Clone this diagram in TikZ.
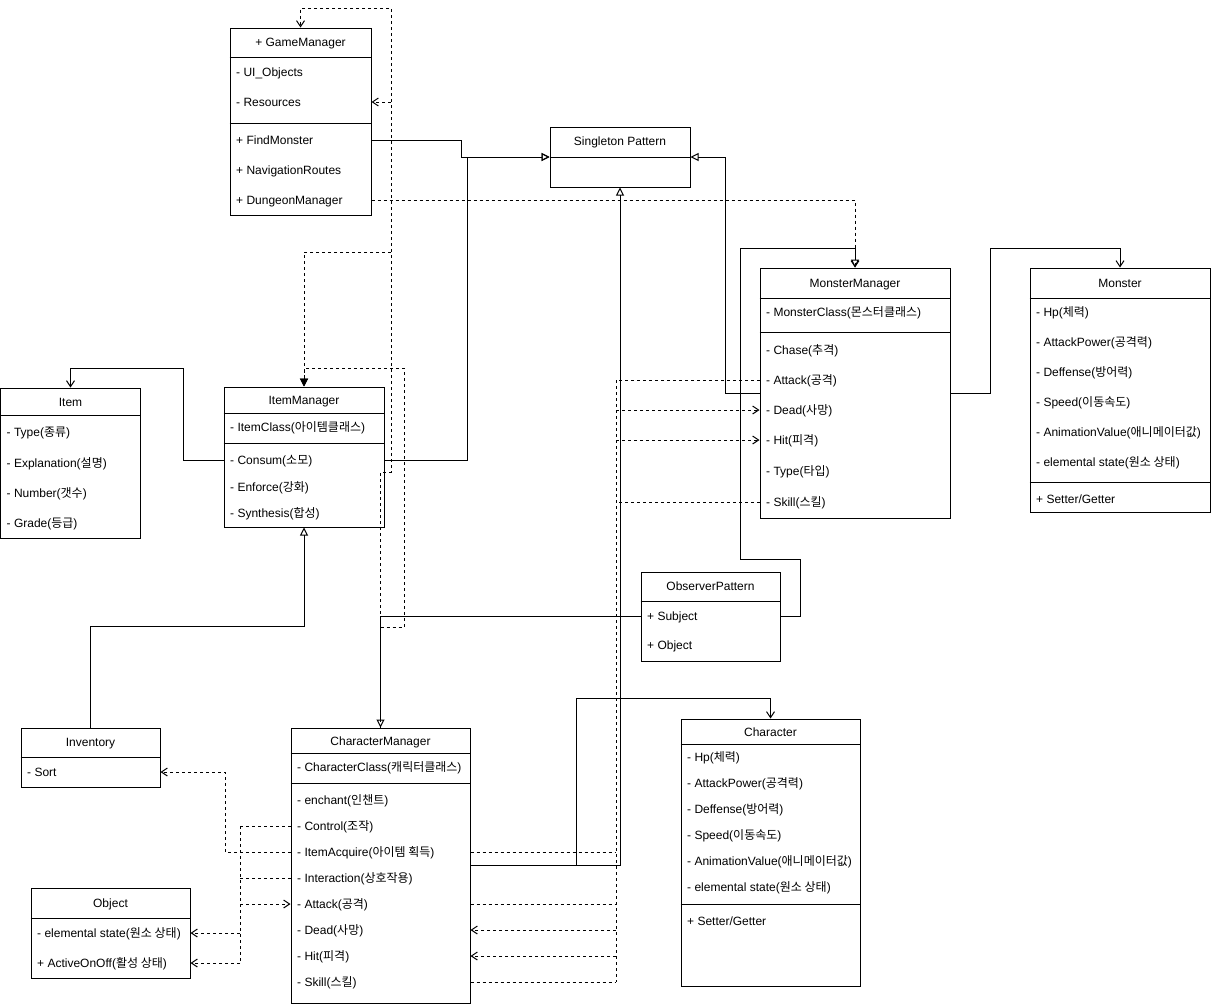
\documentclass[tikz,border=0pt]{standalone}
\usepackage{fontspec}
\setmainfont{Liberation Sans}
\newfontfamily\kofont{Noto Sans CJK KR}
\newcommand{\ko}[1]{{\kofont #1}}
\usetikzlibrary{arrows.meta}

\tikzset{
  classbox/.style={draw, line width=1pt, inner sep=0pt},
  headtxt/.style={inner sep=0pt, text height=10.5pt, text depth=1.5pt},
  rowtxt/.style={anchor=west, inner xsep=6pt, inner ysep=0pt, text height=10.5pt, text depth=1.5pt},
  solidline/.style={line width=1pt},
  dashline/.style={line width=1pt, dash pattern=on 3pt off 3pt},
  hollowtip/.style={-{Triangle[open, length=8pt, width=8pt]}},
  opentip/.style={-{Straight Barb[length=6pt, width=8pt]}},
  filledtip/.style={-{Triangle[length=8pt, width=8pt]}},
}

\begin{document}
\begin{tikzpicture}[x=1pt, y=-1pt, font=\fontsize{12}{14}\selectfont]
  \useasboundingbox (0,0) rectangle (1211,1004);

  % GameManager
  \node [classbox, minimum width=141pt, minimum height=187pt] (gm) at (300.5,121.5) {};
  \node [headtxt] (gmHead) at (300.5,42) {+ GameManager};
  \draw [solidline] (gm.west |- 0,57) -- (gm.east |- 0,57);
  \node [rowtxt] (gmUI) at (230,72) {- UI\_Objects};
  \node [rowtxt] (gmRes) at (230,102) {- Resources};
  \draw [solidline] (gm.west |- 0,123) -- (gm.east |- 0,123);
  \node [rowtxt] (gmFind) at (230,140) {+ FindMonster};
  \node [rowtxt] (gmNav) at (230,170) {+ NavigationRoutes};
  \node [rowtxt] (gmDungeon) at (230,200) {+ DungeonManager};

  % Singleton Pattern
  \node [classbox, minimum width=140pt, minimum height=60pt] (sp) at (620,157) {};
  \node [headtxt] (spHead) at (620,141) {Singleton Pattern};
  \draw [solidline] (sp.west) -- (sp.east);

  % Item
  \node [classbox, minimum width=140pt, minimum height=150pt] (item) at (70.5,463) {};
  \node [headtxt] (itemHead) at (70.5,402) {Item};
  \draw [solidline] (item.west |- 0,415) -- (item.east |- 0,415);
  \node [rowtxt] (itemType) at (0.5,432) {- Type(\ko{종류})};
  \node [rowtxt] (itemExp) at (0.5,463) {- Explanation(\ko{설명})};
  \node [rowtxt] (itemNum) at (0.5,493) {- Number(\ko{갯수})};
  \node [rowtxt] (itemGrade) at (0.5,523) {- Grade(\ko{등급})};

  % ItemManager
  \node [classbox, minimum width=160pt, minimum height=140pt] (im) at (304,457) {};
  \node [headtxt] (imHead) at (304,400) {ItemManager};
  \draw [solidline] (im.west |- 0,413) -- (im.east |- 0,413);
  \node [rowtxt] (imClass) at (224,427) {- ItemClass(\ko{아이템클래스})};
  \draw [solidline] (im.west |- 0,443) -- (im.east |- 0,443);
  \node [rowtxt] (imConsum) at (224,460) {- Consum(\ko{소모})};
  \node [rowtxt] (imEnforce) at (224,487) {- Enforce(\ko{강화})};
  \node [rowtxt] (imSynth) at (224,513) {- Synthesis(\ko{합성})};

  % MonsterManager
  \node [classbox, minimum width=190pt, minimum height=250pt] (mm) at (855,393) {};
  \node [headtxt] (mmHead) at (855,283) {MonsterManager};
  \draw [solidline] (mm.west |- 0,298) -- (mm.east |- 0,298);
  \node [rowtxt] (mmClass) at (760,312) {- MonsterClass(\ko{몬스터클래스})};
  \draw [solidline] (mm.west |- 0,332) -- (mm.east |- 0,332);
  \node [rowtxt] (mmChase) at (760,350) {- Chase(\ko{추격})};
  \node [rowtxt] (mmAttack) at (760,380) {- Attack(\ko{공격})};
  \node [rowtxt] (mmDead) at (760,410) {- Dead(\ko{사망})};
  \node [rowtxt] (mmHit) at (760,440) {- Hit(\ko{피격})};
  \node [rowtxt] (mmType) at (760,471) {- Type(\ko{타입})};
  \node [rowtxt] (mmSkill) at (760,502) {- Skill(\ko{스킬})};

  % Monster
  \node [classbox, minimum width=180pt, minimum height=244pt] (mon) at (1120,390) {};
  \node [headtxt] (monHead) at (1120,283) {Monster};
  \draw [solidline] (mon.west |- 0,298) -- (mon.east |- 0,298);
  \node [rowtxt] (monHp) at (1030,312) {- Hp(\ko{체력})};
  \node [rowtxt] (monAtk) at (1030,342) {- AttackPower(\ko{공격력})};
  \node [rowtxt] (monDef) at (1030,372) {- Deffense(\ko{방어력})};
  \node [rowtxt] (monSpeed) at (1030,402) {- Speed(\ko{이동속도})};
  \node [rowtxt] (monAnim) at (1030,432) {- AnimationValue(\ko{애니메이터값})};
  \node [rowtxt] (monElem) at (1030,462) {- elemental state(\ko{원소 상태})};
  \draw [solidline] (mon.west |- 0,482) -- (mon.east |- 0,482);
  \node [rowtxt] (monSet) at (1030,499) {+ Setter/Getter};

  % ObserverPattern
  \node [classbox, minimum width=139pt, minimum height=89pt] (op) at (710.5,616.5) {};
  \node [headtxt] (opHead) at (710.5,586) {ObserverPattern};
  \draw [solidline] (op.west |- 0,601) -- (op.east |- 0,601);
  \node [rowtxt] (opSubj) at (641,616) {+ Subject};
  \node [rowtxt] (opObj) at (641,645) {+ Object};

  % Inventory
  \node [classbox, minimum width=139pt, minimum height=59pt] (inv) at (90.5,757.5) {};
  \node [headtxt] (invHead) at (90.5,742) {Inventory};
  \draw [solidline] (inv.west |- 0,757) -- (inv.east |- 0,757);
  \node [rowtxt] (invSort) at (21,772) {- Sort};

  % Object
  \node [classbox, minimum width=159pt, minimum height=90pt] (obj) at (110.5,933) {};
  \node [headtxt] (objHead) at (110.5,903) {Object};
  \draw [solidline] (obj.west |- 0,918) -- (obj.east |- 0,918);
  \node [rowtxt] (objElem) at (31,933) {- elemental state(\ko{원소 상태})};
  \node [rowtxt] (objActive) at (31,963) {+ ActiveOnOff(\ko{활성 상태})};

  % CharacterManager
  \node [classbox, minimum width=179pt, minimum height=275pt] (cm) at (380.5,865.5) {};
  \node [headtxt] (cmHead) at (380.5,741) {CharacterManager};
  \draw [solidline] (cm.west |- 0,753) -- (cm.east |- 0,753);
  \node [rowtxt] (cmClass) at (291,767) {- CharacterClass(\ko{캐릭터클래스})};
  \draw [solidline] (cm.west |- 0,783) -- (cm.east |- 0,783);
  \node [rowtxt] (cmEnchant) at (291,800) {- enchant(\ko{인챈트})};
  \node [rowtxt] (cmControl) at (291,826) {- Control(\ko{조작})};
  \node [rowtxt] (cmAcq) at (291,852) {- ItemAcquire(\ko{아이템 획득})};
  \node [rowtxt] (cmInter) at (291,878) {- Interaction(\ko{상호작용})};
  \node [rowtxt] (cmAttack) at (291,904) {- Attack(\ko{공격})};
  \node [rowtxt] (cmDead) at (291,930) {- Dead(\ko{사망})};
  \node [rowtxt] (cmHit) at (291,956) {- Hit(\ko{피격})};
  \node [rowtxt] (cmSkill) at (291,982) {- Skill(\ko{스킬})};

  % Character
  \node [classbox, minimum width=179pt, minimum height=267pt] (ch) at (770.5,852.5) {};
  \node [headtxt] (chHead) at (770.5,732) {Character};
  \draw [solidline] (ch.west |- 0,744) -- (ch.east |- 0,744);
  \node [rowtxt] (chHp) at (681,757) {- Hp(\ko{체력})};
  \node [rowtxt] (chAtk) at (681,783) {- AttackPower(\ko{공격력})};
  \node [rowtxt] (chDef) at (681,809) {- Deffense(\ko{방어력})};
  \node [rowtxt] (chSpeed) at (681,835) {- Speed(\ko{이동속도})};
  \node [rowtxt] (chAnim) at (681,861) {- AnimationValue(\ko{애니메이터값})};
  \node [rowtxt] (chElem) at (681,887) {- elemental state(\ko{원소 상태})};
  \draw [solidline] (ch.west |- 0,904) -- (ch.east |- 0,904);
  \node [rowtxt] (chSet) at (681,921) {+ Setter/Getter};

  % solid connectors
  \draw [solidline, hollowtip] (gm.east |- gmFind) -| (461,157) -- (sp.west);
  \draw [solidline, hollowtip] (im.east |- imConsum) -| (467,157) -- (sp.west);
  \draw [solidline, hollowtip] (mm.west) -| (725,157) -- (sp.east);
  \draw [solidline, hollowtip] (cm.east) -| (sp.south);
  \draw [solidline, opentip] (cm.east) -| (576,698) -| (ch.north);
  \draw [solidline, opentip] (mm.east) -| (990,248) -| (mon.north);
  \draw [solidline, opentip] (im.west |- imConsum) -| (183,368) -| (item.north);
  \draw [solidline, hollowtip] (inv.north) |- (304,626) -- (im.south);
  \draw [solidline, hollowtip] (op.east |- opSubj) -| (800,559) -| (740,248) -| (mm.north);
  \draw [solidline, hollowtip] (op.west |- opSubj) -| (cm.north);

  % dashed connectors
  \coordinate (tbus) at (391,0);
  \coordinate (rbus) at (616,0);
  \coordinate (lbus) at (240,0);
  \draw [dashline, opentip] (gm.east |- gmDungeon) -| (mm.north);
  \draw [dashline, opentip] (cm.north) -- (380.5,472) -- (tbus |- 0,472) -- (tbus |- 0,8) -| (gm.north);
  \draw [dashline, opentip] (tbus |- gmRes) -- (gm.east |- gmRes);
  \draw [dashline, filledtip] (tbus |- 0,252) -| (im.north);
  \draw [dashline, filledtip] (cm.north |- 0,627) -| (404,368) -| (im.north);

  \draw [dashline] (rbus |- mmAttack) -- (rbus |- cmSkill);
  \draw [dashline] (mm.west |- mmAttack) -- (rbus |- mmAttack);
  \draw [dashline, opentip] (rbus |- mmDead) -- (mm.west |- mmDead);
  \draw [dashline, opentip] (rbus |- mmHit) -- (mm.west |- mmHit);
  \draw [dashline] (mm.west |- mmSkill) -- (rbus |- mmSkill);
  \draw [dashline] (cm.east |- cmAcq) -- (rbus |- cmAcq);
  \draw [dashline] (cm.east |- cmAttack) -- (rbus |- cmAttack);
  \draw [dashline, opentip] (rbus |- cmDead) -- (cm.east |- cmDead);
  \draw [dashline, opentip] (rbus |- cmHit) -- (cm.east |- cmHit);
  \draw [dashline] (cm.east |- cmSkill) -- (rbus |- cmSkill);

  \draw [dashline, opentip] (cm.west |- cmAcq) -| (225,772) -- (inv.east |- invSort);
  \draw [dashline] (lbus |- cmControl) -- (lbus |- objActive);
  \draw [dashline] (cm.west |- cmControl) -- (lbus |- cmControl);
  \draw [dashline] (cm.west |- cmInter) -- (lbus |- cmInter);
  \draw [dashline, opentip] (lbus |- cmAttack) -- (cm.west |- cmAttack);
  \draw [dashline, opentip] (lbus |- objElem) -- (obj.east |- objElem);
  \draw [dashline, opentip] (lbus |- objActive) -- (obj.east |- objActive);
\end{tikzpicture}
\end{document}
